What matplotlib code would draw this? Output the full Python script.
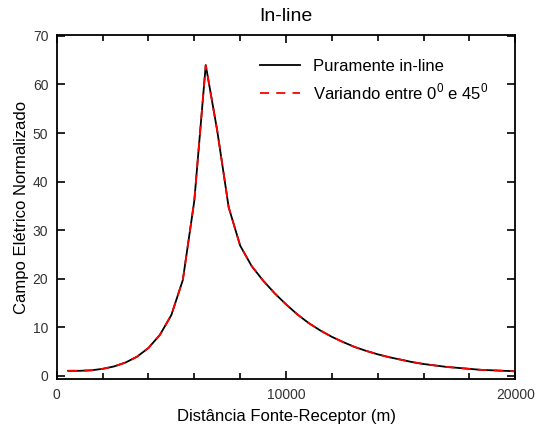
import matplotlib
matplotlib.use("Agg")
import matplotlib.pyplot as plt
from matplotlib.ticker import MultipleLocator

plt.rcParams['font.family'] = ['Liberation Sans', 'DejaVu Sans']
plt.rcParams['mathtext.fontset'] = 'custom'
plt.rcParams['mathtext.rm'] = 'Liberation Sans'

# distancia fonte-receptor (m)
dist = [500, 1000, 1500, 2000, 2500, 3000, 3500, 4000, 4500, 5000,
        5500, 6000, 6500, 7000, 7500, 8000, 8500, 9000, 9500, 10000,
        10500, 11000, 11500, 12000, 12500, 13000, 13500, 14000, 14500, 15000,
        15500, 16000, 16500, 17000, 17500, 18000, 18500, 19000, 19500, 20000]
# campo normalizado, puramente in-line
campo_inline = [1.0, 1.0, 1.1, 1.4, 1.9, 2.7, 3.9, 5.7, 8.4, 12.5,
                19.7, 36.0, 64.0, 50.5, 34.7, 26.8, 22.6, 19.6, 17.0, 14.7,
                12.6, 10.8, 9.3, 8.0, 6.9, 5.9, 5.1, 4.4, 3.8, 3.3,
                2.8, 2.4, 2.1, 1.8, 1.6, 1.4, 1.2, 1.1, 1.0, 0.9]
# variando entre 0 e 45 graus
campo_var = [1.0, 1.0, 1.1, 1.4, 1.9, 2.7, 3.9, 5.7, 8.4, 12.5,
             19.7, 36.0, 64.0, 50.5, 34.7, 26.8, 22.6, 19.6, 17.0, 14.7,
             12.6, 10.8, 9.3, 8.0, 6.9, 5.9, 5.1, 4.4, 3.8, 3.3,
             2.8, 2.4, 2.1, 1.8, 1.6, 1.4, 1.2, 1.1, 1.0, 0.9]

fig = plt.figure(figsize=(5.37, 4.32), dpi=100)
ax = fig.add_axes([0.1056, 0.122, 0.854, 0.797])

ax.plot(dist, campo_inline, color='black', lw=1.3, label='Puramente in-line')
ax.plot(dist, campo_var, color='red', lw=1.3, ls=(0, (5, 4)),
        label='Variando entre 0$^0$ e 45$^0$')

ax.set_xlim(0, 20000)
ax.set_ylim(-0.75, 70.2)
ax.xaxis.set_major_locator(MultipleLocator(10000))
ax.xaxis.set_minor_locator(MultipleLocator(2000))
ax.yaxis.set_major_locator(MultipleLocator(10))
ax.tick_params(which='both', direction='in', top=True, right=True,
               labelsize=10, labelcolor='#333333', width=1.2)
ax.tick_params(which='major', length=6, pad=6)
ax.tick_params(which='minor', length=4)
for s in ax.spines.values():
    s.set_linewidth(1.3)

ax.set_title('In-line', fontsize=14, pad=10)
ax.set_xlabel('Distância Fonte-Receptor (m)', fontsize=12, labelpad=5)
ax.set_ylabel('Campo Elétrico Normalizado', fontsize=12, labelpad=3)

ax.legend(loc='upper left', frameon=False, fontsize=12, handlelength=2.4,
          handletextpad=0.8, borderpad=0, borderaxespad=0,
          bbox_to_anchor=(0.484, 0.8634), bbox_transform=fig.transFigure,
          labelspacing=0.45)

fig.savefig('out.png', dpi=100)
